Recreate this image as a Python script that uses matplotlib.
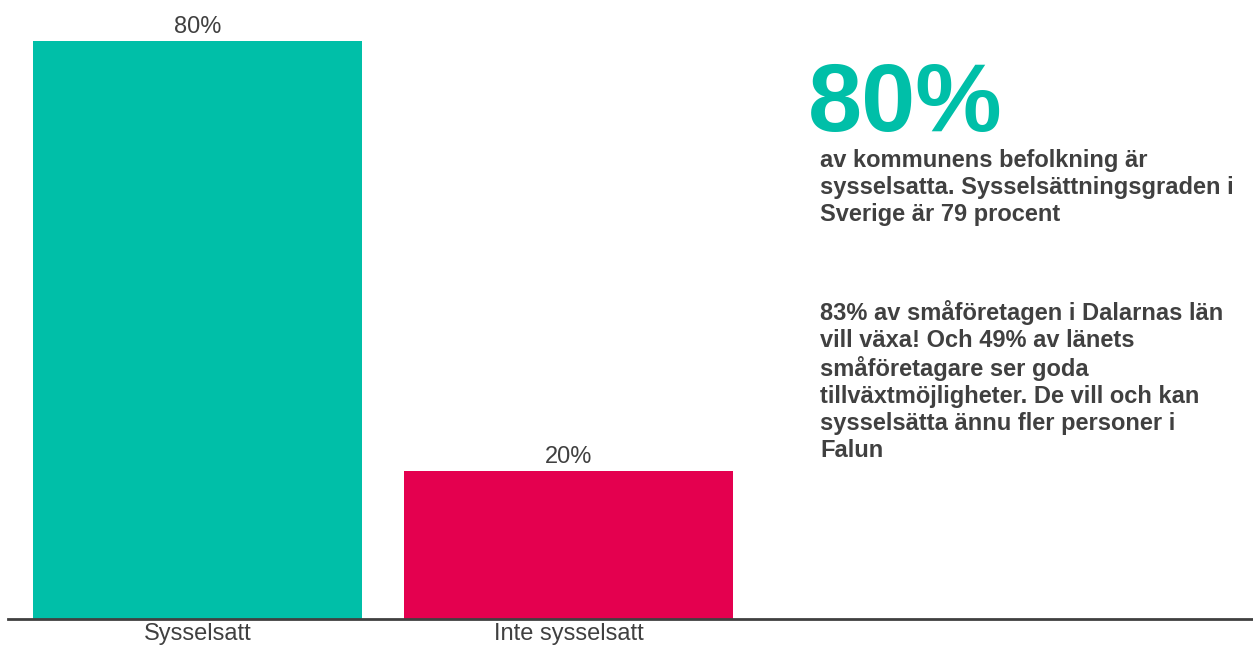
import matplotlib.pyplot as plt

kategorier = ['Sysselsatt', 'Inte sysselsatt']
andelar = [79.6, 20.4]
etiketter = ['80%', '20%']
farger = ['#00BFA8', '#E4004F']

rubrik = '80%'
text1 = ('av kommunens befolkning är\n'
         'sysselsatta. Sysselsättningsgraden i\n'
         'Sverige är 79 procent')
text2 = ('83% av småföretagen i Dalarnas län\n'
         'vill växa! Och 49% av länets\n'
         'småföretagare ser goda\n'
         'tillväxtmöjligheter. De vill och kan\n'
         'sysselsätta ännu fler personer i\n'
         'Falun')

plt.rcParams['font.family'] = ['Liberation Sans', 'DejaVu Sans']
textfarg = '#404040'

fig = plt.figure(figsize=(12.53, 6.49), dpi=100)
ax = fig.add_axes([8 / 1253, 30 / 649, 1245 / 1253, 619 / 649])

x = range(len(kategorier))
staplar = ax.bar(x, andelar, width=0.887, color=farger)
for s, t in zip(staplar, etiketter):
    ax.annotate(t, (s.get_x() + s.get_width() / 2, s.get_height()),
                xytext=(0, 2), textcoords='offset points',
                ha='center', va='bottom', fontsize=17, color=textfarg)

ax.set_xlim(-0.511, 2.845)
ax.set_ylim(0, 85.25)
ax.set_xticks(list(x))
ax.set_xticklabels(kategorier, fontsize=17, color=textfarg)
ax.tick_params(axis='x', length=0, pad=3)
ax.set_yticks([])
for side in ['left', 'right', 'top']:
    ax.spines[side].set_visible(False)
ax.spines['bottom'].set_color(textfarg)
ax.spines['bottom'].set_linewidth(2)

fig.text(808 / 1253, 1 - 131 / 649, rubrik, fontsize=70, fontweight='bold',
         color=farger[0], ha='left', va='baseline')
# multiline med va='baseline' linjerar sista raden
fig.text(820 / 1253, 1 - 221 / 649, text1, fontsize=17, fontweight='bold',
         color=textfarg, ha='left', va='baseline', linespacing=1.22)
fig.text(820 / 1253, 1 - 457 / 649, text2, fontsize=17, fontweight='bold',
         color=textfarg, ha='left', va='baseline', linespacing=1.22)

fig.savefig('out.png', dpi=100)
